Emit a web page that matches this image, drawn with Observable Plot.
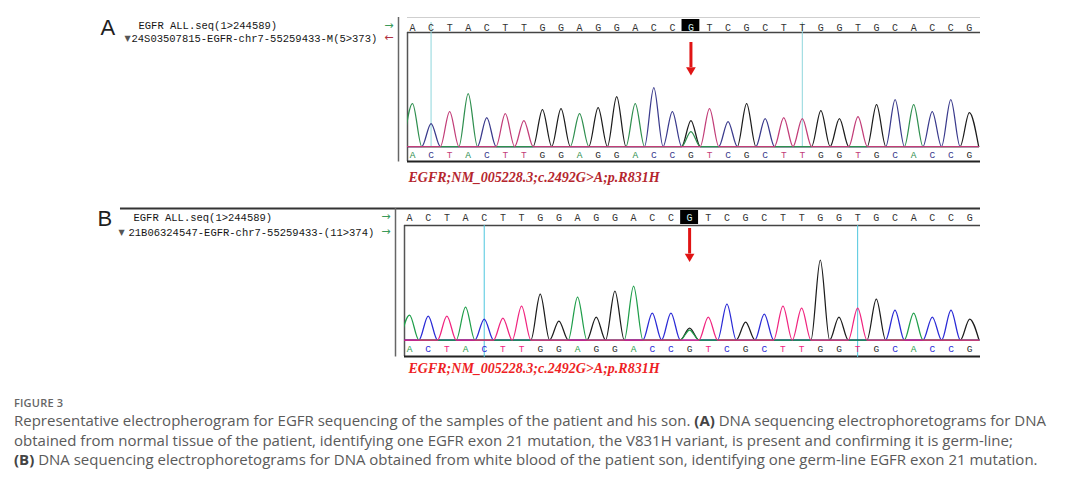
<!DOCTYPE html>
<html><head><meta charset="utf-8">
<script src="https://cdn.jsdelivr.net/npm/d3@7"></script>
<script src="https://cdn.jsdelivr.net/npm/@observablehq/plot@0.6"></script>
<style>
html,body{margin:0;padding:0;background:#fff}
body{width:1080px;height:482px;overflow:hidden;position:relative;font-family:"Open Sans",sans-serif}
#chart svg{display:block}
#caption{position:absolute;left:14px;top:395px;color:#5a5a5a;white-space:nowrap}
#caption .fig{font-size:11px;font-weight:600;line-height:16px;color:#666;letter-spacing:0.2px}
#caption .line{font-size:15px;line-height:19.5px}
#caption b{font-weight:700;color:#444}
</style></head><body>
<div id="chart"></div>
<div id="caption">
<div class="fig">FIGURE 3</div>
<div class="line">Representative electropherogram for EGFR sequencing of the samples of the patient and his son. <b>(A)</b> DNA sequencing electrophoretograms for DNA</div>
<div class="line">obtained from normal tissue of the patient, identifying one EGFR exon 21 mutation, the V831H variant, is present and confirming it is germ-line;</div>
<div class="line"><b>(B)</b> DNA sequencing electrophoretograms for DNA obtained from white blood of the patient son, identifying one germ-line EGFR exon 21 mutation.</div>
</div>
<script>
// ---- data ----
const sequence = "ACTACTTGGAGGACCGTCGCTTGGTGCACCG".split("");
const baseOrder = ["A", "C", "G", "T"];
// primary peak heights (relative fluorescence) per base position
const peakHeightsA = [43,23,35,53,29,33,26,37,38,33,39,50,43,59,35,26,38,25,43,28,29,28,36,28,30,42,47,42,35,47,34];
const peakHeightsB = [25,24,24,33,21,22,34,46,19,43,23,49,54,27,27,12,23,36,18,26,34,32,80,23,32,41,30,27,23,30,21];
// heterozygous secondary peak at the mutation site
const mutationPos = [15];
const secondaryBase = ["A"];
const secondaryHeightA = [15];
const secondaryHeightB = [10];
// cursor lines
const cursorPosA = [1, 21];
const cursorPosB = [4, 24];
// texts
const refName = "EGFR ALL.seq(1>244589)";
const sampleA = "24S03507815-EGFR-chr7-55259433-M(5>373)";
const sampleB = "21B06324547-EGFR-chr7-55259433-(11>374)";
const mutationLabel = "EGFR;NM_005228.3;c.2492G>A;p.R831H";
const colorsA = ["#2f8f4f", "#3a3a8c", "#1c1c1c", "#c23d78"];
const colorsB = ["#1f9e4a", "#2a2ad6", "#1c1c1c", "#f0247f"];

function traceRows(heights, secH) {
  const rows = [];
  const n = sequence.length;
  for (const ch of ["G", "C", "A", "T"]) {
    for (let i = 0; i < n; i++) {
      rows.push({ch, x: i - 0.5, y: 0});
      let h = sequence[i] === ch ? heights[i] : 0;
      const k = mutationPos.indexOf(i);
      if (k >= 0 && secondaryBase[k] === ch) h = secH[k];
      rows.push({ch, x: i, y: h});
    }
    rows.push({ch, x: n - 0.5, y: 0});
  }
  return rows;
}

function panel(cfg) {
  const seqRows = sequence.map((b, i) => ({b, i}));
  const [x0, x1] = cfg.xDomain;
  const mono = "Liberation Mono, DejaVu Sans Mono, monospace";
  const lab = (t, dx, dy, o = {}) => Plot.text([t], Object.assign({text: d => d, frameAnchor: "top-left", textAnchor: "start", lineAnchor: "middle", dx, dy, fontFamily: mono, fontSize: 10.5, fill: "#161616"}, o));
  return Plot.plot({
    width: 1080, height: cfg.height,
    marginLeft: cfg.mL, marginRight: 100, marginTop: cfg.mT, marginBottom: cfg.mB,
    x: {domain: cfg.xDomain, axis: null},
    y: {domain: cfg.yDomain, axis: null},
    color: {domain: baseOrder, range: cfg.colors},
    style: {background: "transparent", overflow: "visible"},
    marks: [
      // box lines
      cfg.topLine,
      Plot.ruleX([x0], {y1: cfg.yDomain[0] - 0.5, y2: cfg.yDomain[1], dx: -9, stroke: "#666", strokeWidth: 1.5}),
      Plot.ruleX([x0], {y1: cfg.yDomain[0], y2: cfg.innerTop, stroke: "#555", strokeWidth: 1.5}),
      Plot.ruleY([cfg.innerTop], {x1: x0, x2: x1, stroke: "#444", strokeWidth: 1.5}),
      Plot.ruleY([cfg.yDomain[0]], {x1: x0, x2: x1, stroke: "#222", strokeWidth: 2}),
      // cursor lines
      Plot.ruleX(cfg.cursors, {y1: cfg.cursorY[0], y2: cfg.cursorY[1], stroke: cfg.cursorColor, strokeWidth: 1}),
      // traces
      Plot.line(traceRows(cfg.heights, cfg.secH), {x: "x", y: "y", z: "ch", stroke: "ch", curve: "monotone-x", strokeWidth: 1.25, clip: true}),
      // highlighted base
      Plot.rect(mutationPos, {x1: d => d - 0.48, x2: d => d + 0.48, y1: cfg.hlY[0], y2: cfg.hlY[1], fill: "#000"}),
      // reference letters
      Plot.text(seqRows.filter(d => !mutationPos.includes(d.i)), {x: "i", y: cfg.topY, text: "b", fontFamily: mono, fontSize: 10, fill: "#333"}),
      Plot.text(seqRows.filter(d => mutationPos.includes(d.i)), {x: "i", y: cfg.topY, text: "b", fontFamily: mono, fontSize: 10, fill: "#d0eeee"}),
      // called letters
      Plot.text(seqRows, {x: "i", y: cfg.botY, text: "b", fill: "b", fontFamily: mono, fontSize: 9.5}),
      // red arrow
      Plot.ruleX(mutationPos, {y1: cfg.arrowY[0], y2: cfg.arrowY[1], stroke: "#e01414", strokeWidth: 3}),
      Plot.dot(mutationPos, {x: d => d, y: cfg.arrowY[2], symbol: "triangle", r: 3.6, fill: "#e01414", rotate: 180}),
      // mutation label
      Plot.text([mutationLabel], {text: d => d, frameAnchor: "bottom-left", textAnchor: "start", lineAnchor: "middle", dx: cfg.mutDx, dy: cfg.mutDy, fontFamily: "Liberation Serif, Times New Roman, serif", fontStyle: "italic", fontWeight: "bold", fontSize: 14, fill: cfg.mutColor}),
      // header
      Plot.text([cfg.letter], {text: d => d, frameAnchor: "top-left", textAnchor: "start", lineAnchor: "middle", dx: cfg.letterDx, dy: cfg.letterDy, fontFamily: "Liberation Sans, Arial, sans-serif", fontSize: 22, fill: "#1e1e1e"}),
      lab(refName, cfg.h1Dx, cfg.h1Dy),
      lab("\u25BC", cfg.triDx, cfg.h2Dy, {fontSize: 8, fill: "#555", fontFamily: "DejaVu Sans"}),
      lab(cfg.sample, cfg.h2Dx, cfg.h2Dy),
      lab("\u2192", -14, cfg.h1Dy - 1, {textAnchor: "end", fill: "#3a9a5a", fontFamily: "DejaVu Sans", fontSize: 11}),
      lab(cfg.arrow2, -14, cfg.h2Dy - 1, {textAnchor: "end", fill: cfg.arrow2Color, fontFamily: "DejaVu Sans", fontSize: 11})
    ]
  });
}

const chart = document.getElementById("chart");
chart.append(panel({
  height: 193, mL: 407, mT: 17, mB: 32,
  xDomain: [-0.27, 30.6], yDomain: [-15, 129],
  colors: colorsA, heights: peakHeightsA, secH: secondaryHeightA,
  innerTop: 114, topY: 119, botY: -8, hlY: [115, 127],
  arrowY: [104, 79, 76.5],
  cursors: cursorPosA, cursorY: [0, 124], cursorColor: "#8fd6dc",
  topLine: Plot.ruleY([129], {x1: -0.27, x2: 30.6, stroke: "#cfcfcf", strokeWidth: 1}),
  mutDx: 1, mutDy: 16, mutColor: "#b5262e",
  letter: "A", letterDx: -307, letterDy: 10,
  h1Dx: -269, h1Dy: 8.5, triDx: -283, h2Dx: -276, h2Dy: 21,
  sample: sampleA, arrow2: "\u2190", arrow2Color: "#b03040"
}));
chart.append(panel({
  height: 190, mL: 404, mT: 15, mB: 27,
  xDomain: [-0.27, 30.58], yDomain: [-16.5, 131.5],
  colors: colorsB, heights: peakHeightsB, secH: secondaryHeightB,
  innerTop: 114.5, topY: 122.5, botY: -8.5, hlY: [115.5, 129.5],
  arrowY: [111.5, 86, 83.5],
  cursors: cursorPosB, cursorY: [-17.5, 114.5], cursorColor: "#4ec6de",
  topLine: Plot.ruleY([131.5], {x1: -0.27 - 284 / 18.67, x2: 30.58, stroke: "#333", strokeWidth: 2}),
  mutDx: 4, mutDy: 12, mutColor: "#ee1f26",
  letter: "B", letterDx: -307, letterDy: 10,
  h1Dx: -271, h1Dy: 9, triDx: -286, h2Dx: -276, h2Dy: 24,
  sample: sampleB, arrow2: "\u2192", arrow2Color: "#3a9a5a"
}));
</script>
</body></html>
